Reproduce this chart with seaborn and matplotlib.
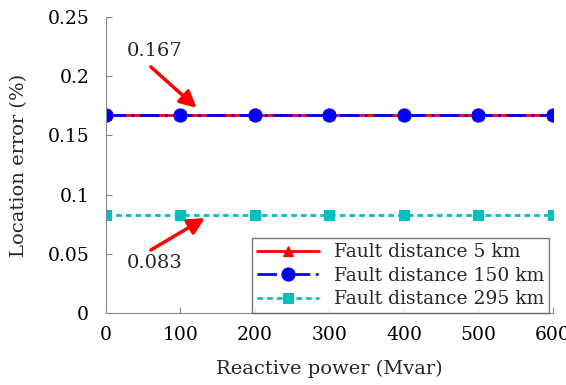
import pandas as pd
import matplotlib.pyplot as plt
import seaborn as sns

# Data
reactive_power = [0, 100, 200, 300, 400, 500, 600]
err_5km = [0.167, 0.167, 0.167, 0.167, 0.167, 0.167, 0.167]
err_150km = [0.167, 0.167, 0.167, 0.167, 0.167, 0.167, 0.167]
err_295km = [0.083, 0.083, 0.083, 0.083, 0.083, 0.083, 0.083]
series_names = ['Fault distance 5 km', 'Fault distance 150 km', 'Fault distance 295 km']

df = pd.DataFrame({
    'power': reactive_power * 3,
    'error': err_5km + err_150km + err_295km,
    'series': [series_names[0]] * 7 + [series_names[1]] * 7 + [series_names[2]] * 7,
})

sns.set_style('ticks')
plt.rcParams['font.family'] = ['DejaVu Serif']

fig = plt.figure(figsize=(5.66, 3.85), dpi=100)
ax = fig.add_axes([0.187, 0.187, 0.79, 0.769])

styles = {
    series_names[0]: dict(color='red', marker='^', ls='-', ms=7),
    series_names[1]: dict(color='blue', marker='o', ls=(0, (7, 2, 1, 2)), ms=9.5),
    series_names[2]: dict(color='#00BFBF', marker='s', ls=(0, (2, 1.5)), ms=7),
}
for name in series_names:
    st = styles[name]
    sns.lineplot(data=df[df['series'] == name], x='power', y='error', ax=ax,
                 color=st['color'], marker=st['marker'], linestyle=st['ls'],
                 markersize=st['ms'], markeredgecolor=st['color'], linewidth=2,
                 label=name)

ax.set_xlim(0, 600)
ax.set_ylim(0, 0.25)
ax.set_xticks(reactive_power)
ax.set_yticks([0, 0.05, 0.1, 0.15, 0.2, 0.25])
ax.set_yticklabels(['0', '0.05', '0.1', '0.15', '0.2', '0.25'])
ax.tick_params(axis='y', pad=12)
ax.tick_params(axis='x', pad=9)
ax.tick_params(direction='in', colors='#888888', labelcolor='black', labelsize=13.5, length=4)
for side in ['top', 'right']:
    ax.spines[side].set_visible(False)
for side in ['left', 'bottom']:
    ax.spines[side].set_color('#888888')
ax.set_xlabel('Reactive power (Mvar)', fontsize=14, labelpad=12)
ax.set_ylabel('Location error (%)', fontsize=14, labelpad=14)

arrow = dict(arrowstyle='-|>,head_length=1.0,head_width=0.5', color='red', lw=2.5,
             shrinkA=0, shrinkB=0)
ax.annotate('', xy=(122, 0.1731), xytext=(60.4, 0.2078), arrowprops=arrow)
ax.annotate('', xy=(133, 0.0802), xytext=(60.4, 0.0532), arrowprops=arrow)
ax.text(65.8, 0.221, '0.167', fontsize=14, ha='center', va='center')
ax.text(65.8, 0.0422, '0.083', fontsize=14, ha='center', va='center')

leg = ax.legend(loc='lower right', fontsize=13.5, frameon=True, fancybox=False,
                borderaxespad=0, handlelength=3.3, borderpad=0.25, labelspacing=0.3,
                handletextpad=0.8, bbox_to_anchor=(0.991, 0.0))
leg.get_frame().set_edgecolor('#555555')
leg.get_frame().set_linewidth(1)

fig.savefig('out.png', dpi=100)
